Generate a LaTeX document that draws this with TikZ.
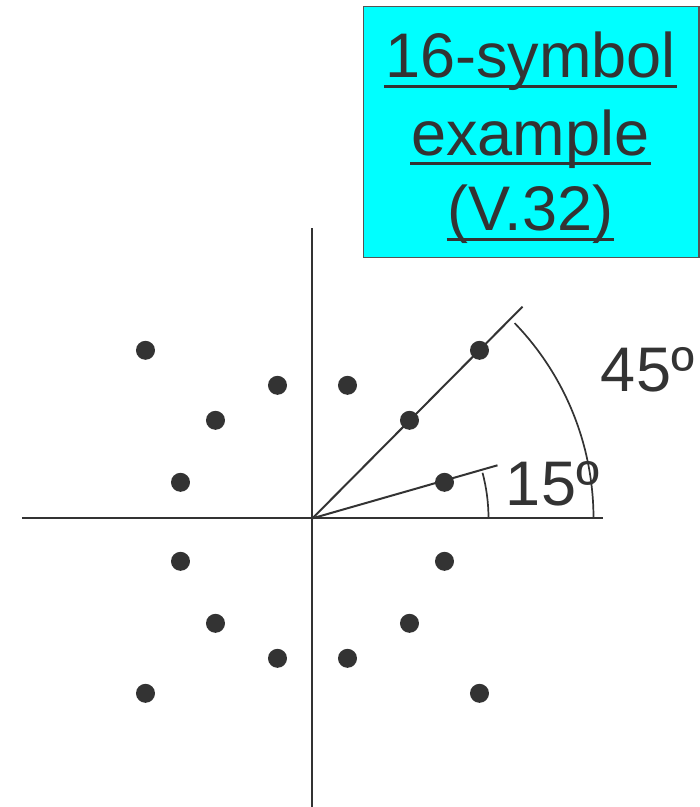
\documentclass[tikz,border=0pt]{standalone}
\usepackage{fontspec}
\setmainfont{Liberation Sans}
\usetikzlibrary{positioning}
\definecolor{inkGray}{HTML}{333333}
\definecolor{boxCyan}{HTML}{00FFFF}
\definecolor{boxEdge}{HTML}{555555}

\begin{document}
\begin{tikzpicture}[x=1pt, y=1pt, line width=2pt, inkGray,
    big/.style={text=inkGray, font=\fontsize{63}{76}\selectfont, inner sep=0pt},
    uline/.style={line width=3pt}]
    \useasboundingbox (-312.5,-288.7) rectangle (387.5,518.3);
    % axes
    \coordinate (o) at (0,0);
    \coordinate (xleft) at (-290.5,0);
    \coordinate (xright) at (290.2,0);
    \coordinate (ybot) at (0,-288.7);
    \coordinate (ytop) at (0,290.3);
    \draw (xleft) -- (xright);
    \draw (ybot) -- (ytop);
    % rays at 15 and 45 degrees
    \coordinate (ray15) at (185,53);
    \coordinate (ray45) at (210,211.6);
    \draw (o) -- (ray15);
    \draw (o) -- (ray45);
    % angle arcs
    \draw[line width=1.7pt] (176,0) arc[start angle=0, end angle=15, radius=176];
    \draw[line width=1.7pt] (281,0) arc[start angle=0, end angle=44, radius=281];
    \node[big, anchor=base west] (lab15) at (192.5,13.3) {15º};
    \node[big, anchor=base west] (lab45) at (287.5,126.6) {45º};
    % constellation points, upper half
    \foreach \x/\y in {167/168, 35/133, 97/98, 132/36} {
      \fill (\x,\y) circle (9.5);
      \fill (-\x,\y) circle (9.5);
    }
    % lower half
    \foreach \x/\y in {132/43, 97/105, 35/140, 167/175} {
      \fill (\x,-\y) circle (9.5);
      \fill (-\x,-\y) circle (9.5);
    }
    % title box
    \node[draw=boxEdge, fill=boxCyan, line width=1.2pt, anchor=south west,
      minimum width=335pt, minimum height=251pt, inner sep=0pt] (box) at (50.8,260) {};
    \node[big, anchor=base] (title1) at (218,440.6) {16-symbol};
    \node[big, anchor=base] (title2) at (218,363.3) {example};
    \node[big, anchor=base] (title3) at (218,287.6) {(V.32)};
    \foreach \t in {title1, title2, title3}
      \draw[uline] ([yshift=-8.5pt]\t.base west) -- ([yshift=-8.5pt]\t.base east);
\end{tikzpicture}
\end{document}
